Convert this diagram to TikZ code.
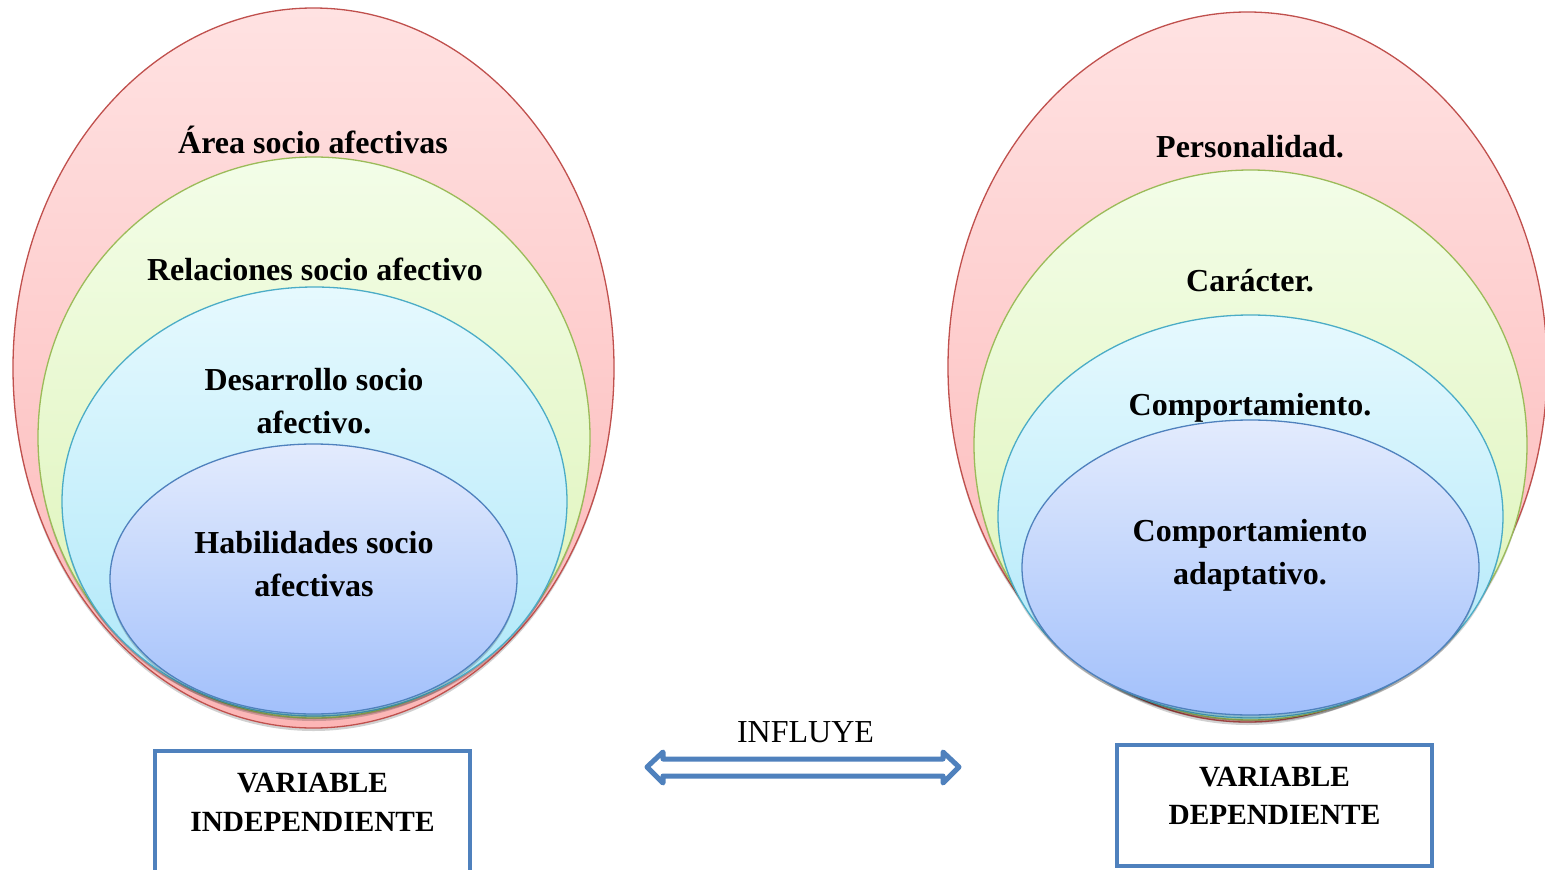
\documentclass[tikz,border=0pt]{standalone}
\usepackage{fontspec}
\setmainfont{Liberation Serif}
\usetikzlibrary{shapes.geometric,shadows}
\definecolor{redline}{HTML}{C0504D}
\definecolor{redtop}{HTML}{FFE2E2}
\definecolor{redbot}{HTML}{FCB6B6}
\definecolor{greenline}{HTML}{9BBB59}
\definecolor{greentop}{HTML}{F3FDE8}
\definecolor{greenbot}{HTML}{DCF3B4}
\definecolor{cyanline}{HTML}{4BACC6}
\definecolor{cyantop}{HTML}{E6F9FE}
\definecolor{cyanbot}{HTML}{ACE7F9}
\definecolor{blueline}{HTML}{4F81BD}
\definecolor{bluetop}{HTML}{E3EBFD}
\definecolor{bluebot}{HTML}{A2C0FB}
\definecolor{boxblue}{HTML}{4F81BD}
\begin{document}
\begin{tikzpicture}[x=1pt,y=-1pt,
  ellbase/.style={ellipse, inner sep=0pt, line width=1.3pt,
    drop shadow={shadow xshift=0pt, shadow yshift=-3pt, opacity=0.18, fill=black}},
  ellred/.style={ellbase, draw=redline, top color=redtop, bottom color=redbot},
  ellgreen/.style={ellbase, draw=greenline, top color=greentop, bottom color=greenbot},
  ellcyan/.style={ellbase, draw=cyanline, top color=cyantop, bottom color=cyanbot},
  ellblue/.style={ellbase, draw=blueline, top color=bluetop, bottom color=bluebot},
  lbl/.style={font=\fontsize{32pt}{43pt}\selectfont\bfseries, anchor=base, inner sep=0pt},
  boxlbl/.style={font=\fontsize{29.3pt}{39pt}\selectfont\bfseries, anchor=base, inner sep=0pt},
  varbox/.style={draw=boxblue, line width=4pt, fill=white, minimum width=315pt, inner sep=0pt},
  arrowline/.style={draw=boxblue, line width=5pt, line join=round, fill=white}]
\useasboundingbox[fill=white] (0,0) rectangle (1545,870);

% left group
\node[ellred,   minimum width=601pt, minimum height=720pt] (lred)   at (313.5,368) {};
\node[ellgreen, minimum width=552pt, minimum height=561pt] (lgreen) at (314,437.5) {};
\node[ellcyan,  minimum width=505pt, minimum height=429pt] (lcyan)  at (314.5,501.5) {};
\node[ellblue,  minimum width=407pt, minimum height=270pt] (lblue)  at (313.5,579) {};

\node[lbl] (t1) at (313,153) {Área socio afectivas};
\node[lbl] (t2) at (315,280) {Relaciones socio afectivo};
\node[lbl] (t3a) at (314,390) {Desarrollo socio};
\node[lbl] (t3b) at (314,433) {afectivo.};
\node[lbl] (t4a) at (314,553) {Habilidades socio};
\node[lbl] (t4b) at (314,596) {afectivas};

% right group
\node[ellred,   minimum width=599pt, minimum height=710pt] (rred)   at (1247.5,367) {};
\node[ellgreen, minimum width=553pt, minimum height=550pt] (rgreen) at (1250.5,445) {};
\node[ellcyan,  minimum width=505pt, minimum height=403pt] (rcyan)  at (1250.5,516.5) {};
\node[ellblue,  minimum width=457pt, minimum height=295pt] (rblue)  at (1250.5,567.5) {};

\node[lbl] (s1) at (1250,157) {Personalidad.};
\node[lbl] (s2) at (1250,291) {Carácter.};
\node[lbl] (s3) at (1250,415) {Comportamiento.};
\node[lbl] (s4a) at (1250,541) {Comportamiento};
\node[lbl] (s4b) at (1250,584) {adaptativo.};

% boxes
\node[varbox, minimum height=121pt] (vi) at (312.5,811.5) {};
\node[boxlbl] (vi1) at (312.5,792) {VARIABLE};
\node[boxlbl] (vi2) at (312.5,831) {INDEPENDIENTE};
\node[varbox, minimum height=121pt] (vd) at (1274.5,805.5) {};
\node[boxlbl] (vd1) at (1274.5,786) {VARIABLE};
\node[boxlbl] (vd2) at (1274.5,824) {DEPENDIENTE};

% arrow
\coordinate (al) at (647,767);
\coordinate (ar) at (959,767);
\draw[arrowline] (al) -- (663,752) -- (663,759) -- (943,759) -- (943,752) -- (ar)
  -- (943,783) -- (943,776) -- (663,776) -- (663,783) -- cycle;
\node[font=\fontsize{32pt}{36pt}\selectfont, anchor=base, inner sep=0pt] (infl) at (805.5,742) {INFLUYE};
\end{tikzpicture}
\end{document}
